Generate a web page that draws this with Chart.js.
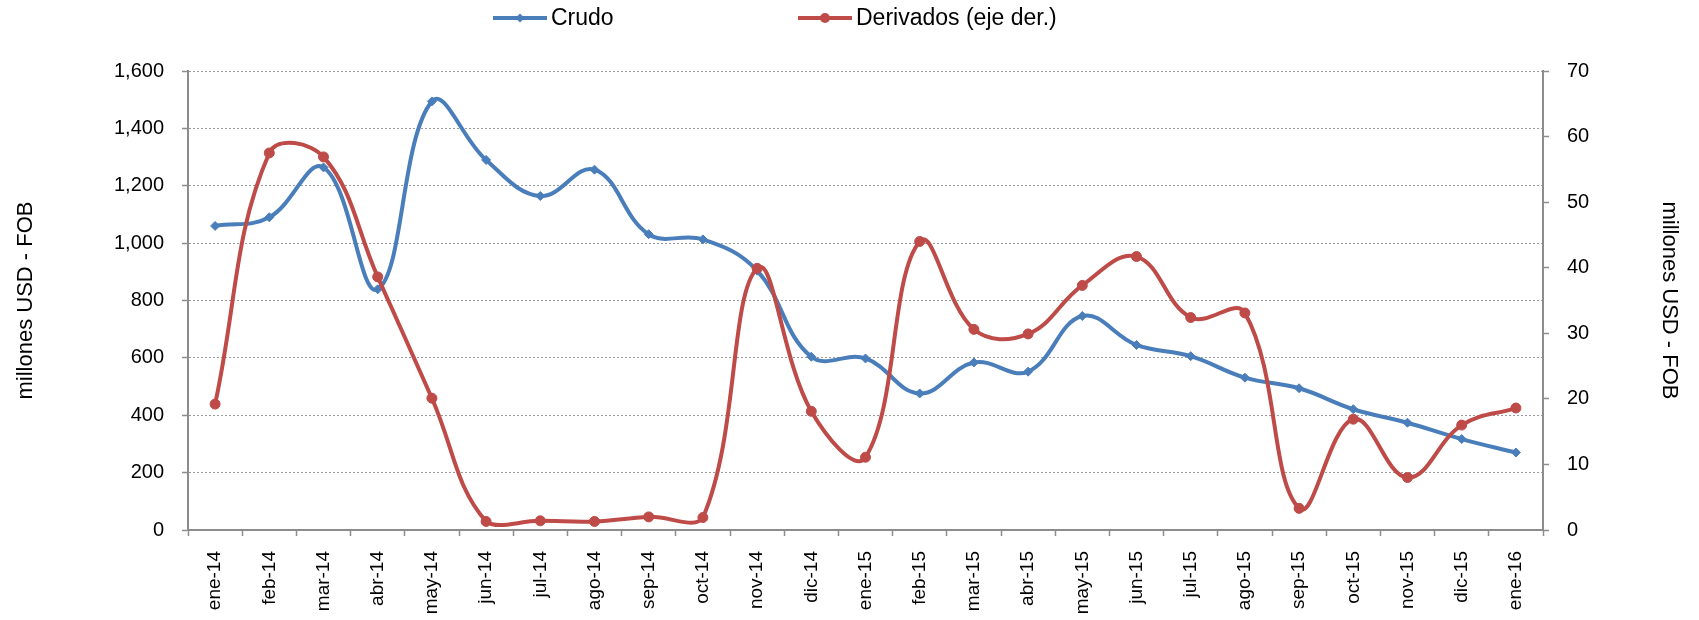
<!DOCTYPE html>
<html>
<head>
<meta charset="utf-8">
<script src="https://cdn.jsdelivr.net/npm/chart.js@4.4.1/dist/chart.umd.min.js"></script>
<style>
  html, body { margin: 0; padding: 0; background: #fff; }
  #wrap { width: 1699px; height: 620px; }
</style>
</head>
<body>
<div id="wrap"><canvas id="exports" width="1699" height="620"></canvas></div>
<script>
var months = ['ene-14', 'feb-14', 'mar-14', 'abr-14', 'may-14', 'jun-14', 'jul-14', 'ago-14', 'sep-14', 'oct-14',
    'nov-14', 'dic-14', 'ene-15', 'feb-15', 'mar-15', 'abr-15', 'may-15', 'jun-15', 'jul-15', 'ago-15',
    'sep-15', 'oct-15', 'nov-15', 'dic-15', 'ene-16'];

// crudo, left axis
var crudo = [1060, 1090, 1264, 839, 1494, 1290, 1164, 1256, 1031, 1013,
    904, 604, 598, 476, 584, 552, 746, 645, 606, 531,
    494, 421, 374, 317, 270];

// derivados, right axis
var derivados = [19.2, 57.5, 56.9, 38.6, 20.1, 1.3, 1.4, 1.3, 2.0, 1.9,
    39.9, 18.1, 11.1, 44.0, 30.6, 29.9, 37.3, 41.7, 32.4, 33.1,
    3.3, 16.9, 8.0, 16.0, 18.6];

var leftTicks = [0, 200, 400, 600, 800, 1000, 1200, 1400, 1600];
var rightTicks = [0, 10, 20, 30, 40, 50, 60, 70];

var blue = '#4A7EBB';
var red = '#BE4B48';
var axisGray = '#8C8C8C';
var fontFamily = '"Liberation Sans", Arial, sans-serif';

// legend drawn by hand so it sits where the original one was
var legendPlugin = {
    id: 'topLegend',
    afterDraw: function (chart) {
        var c = chart.ctx;
        var items = [
            {label: 'Crudo', color: blue, x0: 493, x1: 547, style: 'diamond'},
            {label: 'Derivados (eje der.)', color: red, x0: 798, x1: 852, style: 'circle'}
        ];
        var y = 18;
        c.save();
        c.font = '23px ' + fontFamily;
        c.textBaseline = 'middle';
        for (let it of items) {
            c.strokeStyle = it.color;
            c.lineWidth = 4;
            c.beginPath();
            c.moveTo(it.x0, y);
            c.lineTo(it.x1, y);
            c.stroke();
            let mx = (it.x0 + it.x1) / 2;
            c.fillStyle = it.color;
            c.beginPath();
            if (it.style === 'circle') {
                c.arc(mx, y, 5, 0, Math.PI * 2);
            } else {
                c.moveTo(mx, y - 4.5);
                c.lineTo(mx + 4.5, y);
                c.lineTo(mx, y + 4.5);
                c.lineTo(mx - 4.5, y);
                c.closePath();
            }
            c.fill();
            c.fillStyle = '#000';
            c.fillText(it.label, it.x1 + 4, y + 1);
        }
        c.restore();
    }
};

var ctx = document.getElementById('exports').getContext('2d');

var myChart = new Chart(ctx, {
    type: 'line',
    data: {
        labels: months,
        datasets: [{
            label: 'Crudo',
            data: crudo,
            yAxisID: 'y',
            borderColor: blue,
            backgroundColor: blue,
            borderWidth: 4,
            tension: 0.4,
            pointStyle: 'rectRot',
            pointRadius: 4.5,
            pointBorderWidth: 1,
            order: 2
        }, {
            label: 'Derivados (eje der.)',
            data: derivados,
            yAxisID: 'y1',
            borderColor: red,
            backgroundColor: red,
            borderWidth: 4,
            tension: 0.4,
            pointStyle: 'circle',
            pointRadius: 5,
            pointBorderWidth: 1,
            order: 1
        }]
    },
    options: {
        responsive: false,
        animation: false,
        clip: false,
        layout: {padding: {top: 71, left: 0, right: 0, bottom: 0}},
        plugins: {
            legend: {display: false},
            tooltip: {enabled: false}
        },
        scales: {
            x: {
                offset: true,
                afterFit: function (s) { s.height = 90; },
                grid: {
                    offset: true,
                    drawOnChartArea: false,
                    tickLength: 6,
                    tickColor: axisGray,
                    tickWidth: 1.5
                },
                border: {color: axisGray, width: 2},
                ticks: {
                    autoSkip: false,
                    maxRotation: 90,
                    minRotation: 90,
                    padding: 15,
                    color: '#000',
                    font: {family: fontFamily, size: 19}
                }
            },
            y: {
                position: 'left',
                min: 0,
                max: 1600,
                afterFit: function (s) { s.width = 188; },
                afterBuildTicks: function (s) {
                    s.ticks = leftTicks.map(function (v) { return {value: v}; });
                },
                grid: {
                    color: '#9A9A9A',
                    lineWidth: 1,
                    tickLength: 6,
                    tickColor: axisGray,
                    tickWidth: 1.5,
                    tickBorderDash: []
                },
                border: {color: axisGray, width: 2, dash: [2, 2]},
                ticks: {
                    padding: 18,
                    color: '#000',
                    font: {family: fontFamily, size: 20},
                    callback: function (v) { return v.toLocaleString('en-US'); }
                },
                title: {
                    display: true,
                    text: 'millones USD - FOB',
                    color: '#000',
                    font: {family: fontFamily, size: 22},
                    padding: {top: 13, bottom: 0}
                }
            },
            y1: {
                position: 'right',
                min: 0,
                max: 70,
                afterFit: function (s) { s.width = 156; },
                afterBuildTicks: function (s) {
                    s.ticks = rightTicks.map(function (v) { return {value: v}; });
                },
                grid: {
                    drawOnChartArea: false,
                    tickLength: 6,
                    tickColor: axisGray,
                    tickWidth: 1.5
                },
                border: {color: axisGray, width: 2},
                ticks: {
                    padding: 18,
                    color: '#000',
                    font: {family: fontFamily, size: 20}
                },
                title: {
                    display: true,
                    text: 'millones USD - FOB',
                    color: '#000',
                    font: {family: fontFamily, size: 22},
                    padding: {top: 17, bottom: 0}
                }
            }
        }
    },
    plugins: [legendPlugin]
});
</script>
</body>
</html>
